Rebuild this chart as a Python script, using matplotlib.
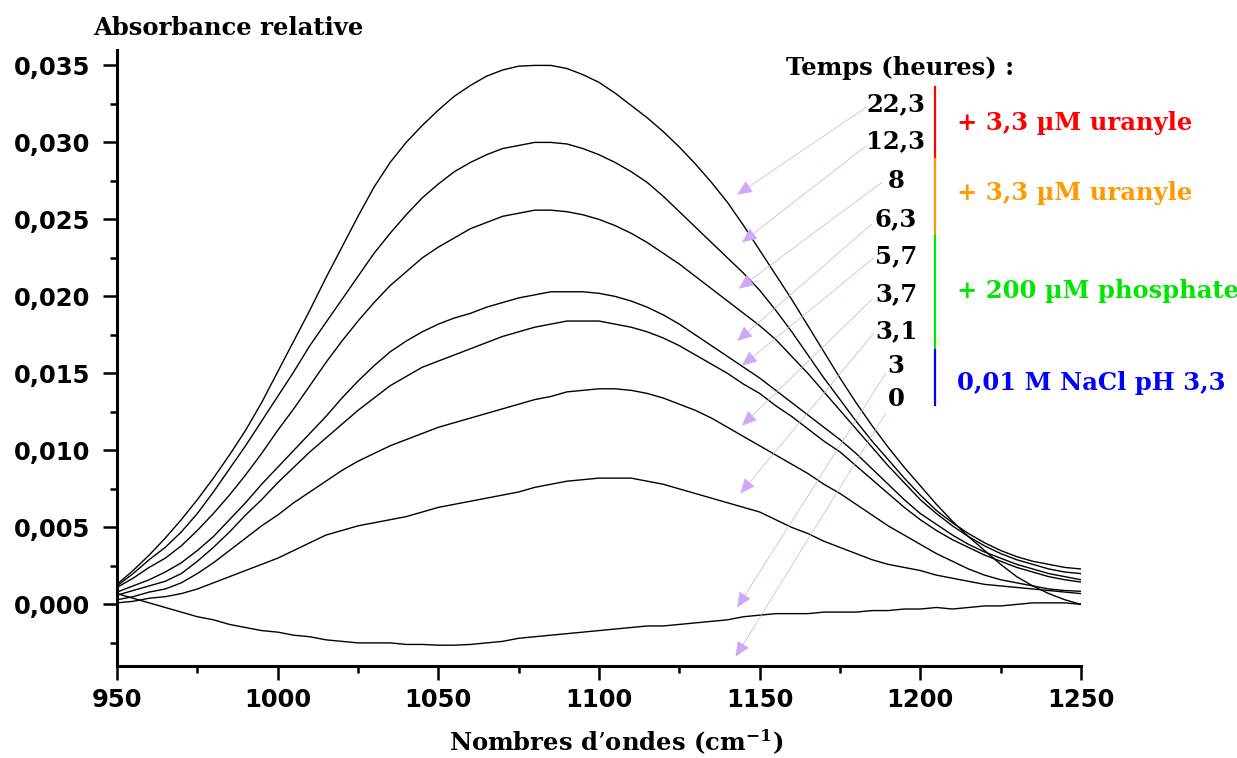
import numpy as np
import matplotlib
matplotlib.use("Agg")
import matplotlib.pyplot as plt
from matplotlib.lines import Line2D
from matplotlib.ticker import MultipleLocator, FuncFormatter

# wavenumbers (cm-1), one reading every 5 cm-1
wavenumber = np.arange(950, 1251, 5)

# relative absorbance, one array per time (hours)
abs_22_3 = [0.0013, 0.0022, 0.0032, 0.0043, 0.0055, 0.0068, 0.0082, 0.0097, 0.0113, 0.0131,
            0.0151, 0.0171, 0.0191, 0.0212, 0.0232, 0.0252, 0.0271, 0.0287, 0.0300, 0.0311,
            0.0321, 0.0330, 0.0337, 0.0343, 0.0347, 0.03495, 0.0350, 0.0350, 0.0348, 0.0344,
            0.0339, 0.0332, 0.0324, 0.0316, 0.0307, 0.0297, 0.0286, 0.0274, 0.0261, 0.0246,
            0.0230, 0.0214, 0.0198, 0.0181, 0.0164, 0.0147, 0.0131, 0.0116, 0.0102, 0.0089,
            0.0077, 0.0065, 0.0054, 0.0044, 0.0035, 0.0026, 0.0018, 0.0012, 0.0007, 0.0003, 0.0000]
abs_12_3 = [0.0012, 0.0020, 0.0029, 0.0037, 0.0047, 0.0059, 0.0073, 0.0088, 0.0103, 0.0119,
            0.0135, 0.0151, 0.0168, 0.0183, 0.0198, 0.0213, 0.0228, 0.0241, 0.0253, 0.0264,
            0.0273, 0.0281, 0.0287, 0.0292, 0.0296, 0.0298, 0.0300, 0.0300, 0.0299, 0.0296,
            0.0292, 0.0287, 0.0281, 0.0274, 0.0265, 0.0255, 0.0245, 0.0235, 0.0225, 0.0215,
            0.0204, 0.0191, 0.0177, 0.0162, 0.0147, 0.0133, 0.0119, 0.0106, 0.0094, 0.0082,
            0.0071, 0.0061, 0.0053, 0.0046, 0.0040, 0.0035, 0.0031, 0.0028, 0.0026, 0.0024, 0.0023]
abs_8 = [0.0011, 0.0017, 0.0024, 0.0030, 0.0038, 0.0048, 0.0059, 0.0071, 0.0084, 0.0098,
         0.0113, 0.0127, 0.0142, 0.0157, 0.0171, 0.0184, 0.0196, 0.0207, 0.0216, 0.0225,
         0.0232, 0.0238, 0.0244, 0.0248, 0.0252, 0.0254, 0.0256, 0.0256, 0.0255, 0.0253,
         0.0250, 0.0246, 0.0241, 0.0235, 0.0228, 0.0221, 0.0213, 0.0205, 0.0197, 0.0189,
         0.0181, 0.0172, 0.0161, 0.0150, 0.0138, 0.0126, 0.0114, 0.0102, 0.0090, 0.0079,
         0.0068, 0.0059, 0.0051, 0.0044, 0.0038, 0.0033, 0.0029, 0.0026, 0.0023, 0.0021, 0.0020]
abs_6_3 = [0.0008, 0.0012, 0.0016, 0.0021, 0.0027, 0.0035, 0.0044, 0.0055, 0.0066, 0.0078,
           0.0089, 0.0100, 0.0111, 0.0122, 0.0134, 0.0145, 0.0155, 0.0164, 0.0171, 0.0177,
           0.0182, 0.0186, 0.0189, 0.0193, 0.0196, 0.0199, 0.0201, 0.0203, 0.0203, 0.0203,
           0.0202, 0.0200, 0.0197, 0.0193, 0.0188, 0.0182, 0.0175, 0.0168, 0.0161, 0.0154,
           0.0147, 0.0139, 0.0131, 0.0123, 0.0115, 0.0107, 0.0098, 0.0088, 0.0078, 0.0068,
           0.0059, 0.0052, 0.0045, 0.0039, 0.0034, 0.0030, 0.0026, 0.0023, 0.0020, 0.0018, 0.0016]
abs_5_7 = [0.0006, 0.0009, 0.0012, 0.0015, 0.0020, 0.0028, 0.0037, 0.0047, 0.0058, 0.0068,
           0.0079, 0.0089, 0.0099, 0.0108, 0.0117, 0.0126, 0.0134, 0.0142, 0.0148, 0.0154,
           0.0158, 0.0162, 0.0166, 0.0170, 0.0174, 0.0177, 0.0180, 0.0182, 0.0184, 0.0184,
           0.0184, 0.0182, 0.0180, 0.0177, 0.0173, 0.0168, 0.0162, 0.0156, 0.0150, 0.0143,
           0.0137, 0.0129, 0.0122, 0.0114, 0.0106, 0.0099, 0.0090, 0.0081, 0.0072, 0.0063,
           0.0055, 0.0048, 0.0042, 0.0037, 0.0032, 0.0028, 0.0024, 0.0021, 0.0018, 0.0016, 0.00145]
abs_3_7 = [0.0003, 0.0005, 0.0008, 0.0010, 0.0014, 0.0020, 0.0027, 0.0035, 0.0043, 0.0051,
           0.0058, 0.0066, 0.0073, 0.0080, 0.0087, 0.0093, 0.0098, 0.0103, 0.0107, 0.0111,
           0.0115, 0.0118, 0.0121, 0.0124, 0.0127, 0.0130, 0.0133, 0.0135, 0.0138, 0.0139,
           0.0140, 0.0140, 0.0139, 0.0137, 0.0134, 0.0130, 0.0126, 0.0121, 0.0115, 0.0109,
           0.0103, 0.0097, 0.0091, 0.0085, 0.0078, 0.0072, 0.0065, 0.0058, 0.0051, 0.0045,
           0.0039, 0.0033, 0.0028, 0.0023, 0.0019, 0.0016, 0.0014, 0.0012, 0.0010, 0.0009, 0.00085]
abs_3_1 = [0.0001, 0.0002, 0.0004, 0.0005, 0.0007, 0.0010, 0.0014, 0.0018, 0.0022, 0.0026,
           0.0030, 0.0035, 0.0040, 0.0045, 0.0048, 0.0051, 0.0053, 0.0055, 0.0057, 0.0060,
           0.0063, 0.0065, 0.0067, 0.0069, 0.0071, 0.0073, 0.0076, 0.0078, 0.0080, 0.0081,
           0.0082, 0.0082, 0.0082, 0.0080, 0.0078, 0.0075, 0.0072, 0.0069, 0.0066, 0.0063,
           0.0060, 0.0055, 0.0050, 0.0046, 0.0041, 0.0037, 0.0033, 0.0029, 0.0026, 0.0024,
           0.0022, 0.0019, 0.0017, 0.0015, 0.0013, 0.0012, 0.0011, 0.0010, 0.0009, 0.0008, 0.0007]
abs_3 = [0.0007, 0.0004, 0.0001, -0.0002, -0.0005, -0.0008, -0.0010, -0.0013, -0.0015, -0.0017,
         -0.0018, -0.0020, -0.0021, -0.0023, -0.0024, -0.0025, -0.0025, -0.0025, -0.0026, -0.0026,
         -0.00265, -0.00265, -0.0026, -0.0025, -0.0024, -0.0022, -0.0021, -0.0020, -0.0019, -0.0018,
         -0.0017, -0.0016, -0.0015, -0.0014, -0.0014, -0.0013, -0.0012, -0.0011, -0.0010, -0.0008,
         -0.0007, -0.0006, -0.0006, -0.0006, -0.0005, -0.0005, -0.0005, -0.0004, -0.0004, -0.0003,
         -0.0003, -0.0002, -0.0003, -0.0002, -0.0001, -0.0001, 0.0000, 0.0001, 0.0001, 0.0001, 0.0000]

curves = [abs_22_3, abs_12_3, abs_8, abs_6_3, abs_5_7, abs_3_7, abs_3_1, abs_3]

# time labels and where their arrows point (tip) / start (tail), data units
time_labels = ["22,3", "12,3", "8", "6,3", "5,7", "3,7", "3,1", "3", "0"]
tip_x = [1143, 1144.5, 1143.5, 1143, 1144.5, 1144.5, 1144, 1143, 1142.5]
tip_y = [0.0266, 0.0235, 0.0205, 0.0171, 0.0155, 0.0116, 0.0072, -0.0002, -0.0034]
tail_x = [1183.3, 1183.3, 1188.0, 1184.9, 1185.5, 1184.9, 1185.5, 1189.2, 1189.2]
tail_y = [0.0323, 0.0298, 0.0274, 0.0247, 0.0225, 0.0198, 0.0176, 0.0150, 0.0124]

groups = ["+ 3,3 \u00b5M uranyle", "+ 3,3 \u00b5M uranyle", "+ 200 \u00b5M phosphate", "0,01 M NaCl pH 3,3"]
group_colors = ["#ff0000", "#ff9900", "#00e600", "#0000ff"]

W, H = 1237, 758
plt.rcParams["mathtext.fontset"] = "dejavuserif"
plt.rcParams["mathtext.default"] = "bf"

fig = plt.figure(figsize=(W / 100, H / 100), dpi=100)
ax = fig.add_axes([117 / W, 1 - 666 / H, (1081 - 117) / W, (666 - 50) / H])

for c in curves:
    ax.plot(wavenumber, c, color="black", lw=1.0)

ax.set_xlim(950, 1250)
ax.set_ylim(-0.004, 0.036)
ax.spines["top"].set_visible(False)
ax.spines["right"].set_visible(False)
for s in ["left", "bottom"]:
    ax.spines[s].set_linewidth(2.2)

ax.xaxis.set_major_locator(MultipleLocator(50))
ax.xaxis.set_minor_locator(MultipleLocator(25))
ax.yaxis.set_major_locator(MultipleLocator(0.005))
ax.yaxis.set_minor_locator(MultipleLocator(0.0025))
ax.yaxis.set_major_formatter(FuncFormatter(lambda v, p: ("%.3f" % v).replace(".", ",").replace("-0,000", "0,000")))
ax.xaxis.set_major_formatter(FuncFormatter(lambda v, p: "%d" % v))
ax.tick_params(which="major", direction="out", length=10, width=1.8)
ax.tick_params(which="minor", direction="out", length=5, width=1.8)
ax.tick_params(axis="y", which="major", pad=9)
ax.tick_params(axis="x", which="major", pad=6)
for lab in ax.get_xticklabels() + ax.get_yticklabels():
    lab.set_fontfamily("DejaVu Sans")
    lab.set_fontweight("bold")
    lab.set_fontsize(17.5)

serif = "DejaVu Serif"
fig.text(93 / W, 1 - 28 / H, "Absorbance relative", family=serif, weight="bold",
         fontsize=17.5, ha="left", va="center")
fig.text(616 / W, 1 - 742 / H, "Nombres d\u2019ondes (cm$^{-1}$)", family=serif, weight="bold",
         fontsize=17.5, ha="center", va="center")
fig.text(900 / W, 1 - 68 / H, "Temps (heures) :", family=serif, weight="bold",
         fontsize=17.5, ha="center", va="center")

label_y = [104, 141, 181, 219, 256, 294, 331, 366, 399]
for lab, ly in zip(time_labels, label_y):
    fig.text(896 / W, 1 - ly / H, lab, family=serif, weight="bold", fontsize=17.5,
             ha="center", va="center")

for tx, ty, sx, sy in zip(tip_x, tip_y, tail_x, tail_y):
    ax.annotate("", xy=(tx, ty), xytext=(sx, sy), xycoords="data", textcoords="data",
                arrowprops=dict(arrowstyle="-|>,head_length=0.8,head_width=0.35",
                                color="#cda8f8", lw=0.5, mutation_scale=12,
                                shrinkA=0, shrinkB=0))

# coloured brackets next to the time labels
bar_spans = [(87, 159), (159, 236), (236, 348), (350, 405)]
group_y = [123, 193, 291, 383]
for (y0, y1), col, g, gy in zip(bar_spans, group_colors, groups, group_y):
    fig.add_artist(Line2D([935 / W, 935 / W], [1 - y0 / H, 1 - y1 / H], color=col, lw=1.6))
    fig.text(957 / W, 1 - gy / H, g, family=serif, weight="bold", fontsize=17.5,
             color=col, ha="left", va="center")

fig.savefig("out.png", dpi=100)
